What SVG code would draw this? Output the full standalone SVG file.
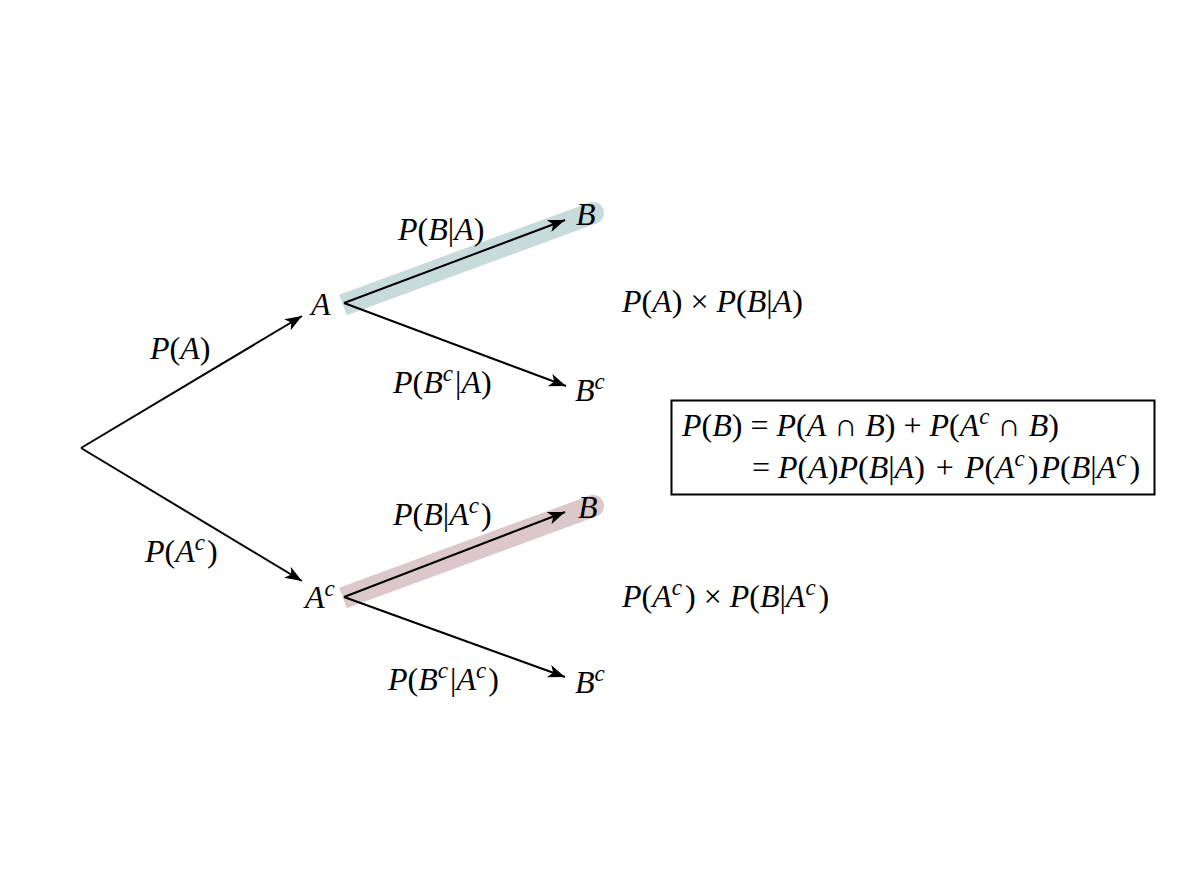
<svg xmlns="http://www.w3.org/2000/svg" width="1200" height="896" viewBox="0 0 1200 896">
<style>
text{font-family:"Liberation Serif","Times New Roman",serif;font-size:32px;fill:#000}
.i{font-style:italic}
.s{font-size:23px;font-style:italic}
.edge{stroke:#000;stroke-width:2;fill:none}
</style>
<defs>
<marker id="ah" markerUnits="userSpaceOnUse" markerWidth="20" markerHeight="16" refX="17" refY="6.5" orient="auto" viewBox="0 0 20 13">
<path d="M0,0 L17,6.5 L0,13 L4.5,6.5 z" fill="#000"/>
</marker>
</defs>
<rect width="1200" height="896" fill="#fff"/>
<g id="highlights">
<line x1="343" y1="305" x2="593" y2="213" stroke="#c8dbdb" stroke-width="22" stroke-linecap="butt"/>
<circle cx="593" cy="213" r="11" fill="#c8dbdb"/>
<line x1="343" y1="598" x2="593" y2="506" stroke="#dcc8cb" stroke-width="22" stroke-linecap="butt"/>
<circle cx="593" cy="506" r="11" fill="#dcc8cb"/>
</g>
<g id="connectors">
<line class="edge" x1="81" y1="448" x2="302" y2="316" marker-end="url(#ah)"/>
<line class="edge" x1="81" y1="448" x2="302" y2="581" marker-end="url(#ah)"/>
<line class="edge" x1="344" y1="303" x2="565" y2="220" marker-end="url(#ah)"/>
<line class="edge" x1="344" y1="303" x2="566" y2="386" marker-end="url(#ah)"/>
<line class="edge" x1="344" y1="597" x2="565" y2="512" marker-end="url(#ah)"/>
<line class="edge" x1="344" y1="597" x2="565" y2="677" marker-end="url(#ah)"/>
</g>
<g id="edge-labels">
<text x="150" y="359"><tspan class="i">P</tspan>(<tspan class="i">A</tspan>)</text>
<text x="145" y="562"><tspan class="i">P</tspan>(<tspan class="i">A</tspan><tspan class="s" dy="-12">c</tspan><tspan dx="2" dy="12">)</tspan></text>
<text x="398" y="240"><tspan class="i">P</tspan>(<tspan class="i">B</tspan>|<tspan class="i">A</tspan>)</text>
<text x="393" y="393"><tspan class="i">P</tspan>(<tspan class="i">B</tspan><tspan class="s" dy="-12">c</tspan><tspan dx="2" dy="12">|</tspan><tspan class="i">A</tspan>)</text>
<text x="393" y="525"><tspan class="i">P</tspan>(<tspan class="i">B</tspan>|<tspan class="i">A</tspan><tspan class="s" dy="-12">c</tspan><tspan dx="2" dy="12">)</tspan></text>
<text x="388" y="690"><tspan class="i">P</tspan>(<tspan class="i">B</tspan><tspan class="s" dy="-12">c</tspan><tspan dx="2" dy="12">|</tspan><tspan class="i">A</tspan><tspan class="s" dy="-12">c</tspan><tspan dx="2" dy="12">)</tspan></text>
</g>
<g id="node-A"><text class="i" x="311" y="315">A</text></g>
<g id="node-Ac"><text x="305" y="608"><tspan class="i">A</tspan><tspan class="s" dy="-12">c</tspan></text></g>
<g id="node-B1"><text class="i" x="576" y="225">B</text></g>
<g id="node-Bc1"><text x="575" y="401"><tspan class="i">B</tspan><tspan class="s" dy="-12">c</tspan></text></g>
<g id="node-B2"><text class="i" x="578" y="518">B</text></g>
<g id="node-Bc2"><text x="575" y="693"><tspan class="i">B</tspan><tspan class="s" dy="-12">c</tspan></text></g>
<g id="product-1"><text x="622" y="312"><tspan class="i">P</tspan>(<tspan class="i">A</tspan>) × <tspan class="i">P</tspan>(<tspan class="i">B</tspan>|<tspan class="i">A</tspan>)</text></g>
<g id="product-2"><text x="622" y="607"><tspan class="i">P</tspan>(<tspan class="i">A</tspan><tspan class="s" dy="-12">c</tspan><tspan dx="3" dy="12">) × </tspan><tspan class="i">P</tspan>(<tspan class="i">B</tspan>|<tspan class="i">A</tspan><tspan class="s" dy="-12">c</tspan><tspan dx="3" dy="12">)</tspan></text></g>
<g id="formula-box">
<rect x="671.5" y="400.5" width="483" height="94" fill="none" stroke="#000" stroke-width="2"/>
<text x="682" y="436"><tspan class="i">P</tspan>(<tspan class="i">B</tspan>) = <tspan class="i">P</tspan>(<tspan class="i">A</tspan> ∩ <tspan class="i">B</tspan>) + <tspan class="i">P</tspan>(<tspan class="i">A</tspan><tspan class="s" dy="-12">c</tspan><tspan dy="12"> ∩ </tspan><tspan class="i">B</tspan>)</text>
<text x="752" y="478">= <tspan class="i">P</tspan>(<tspan class="i">A</tspan>)<tspan class="i">P</tspan>(<tspan class="i">B</tspan>|<tspan class="i">A</tspan>)<tspan dx="3"> + </tspan><tspan class="i" dx="3">P</tspan>(<tspan class="i">A</tspan><tspan class="s" dy="-12">c</tspan><tspan dx="3" dy="12">)</tspan><tspan class="i" dx="2">P</tspan>(<tspan class="i">B</tspan>|<tspan class="i">A</tspan><tspan class="s" dy="-12">c</tspan><tspan dx="3" dy="12">)</tspan></text>
</g>
</svg>
